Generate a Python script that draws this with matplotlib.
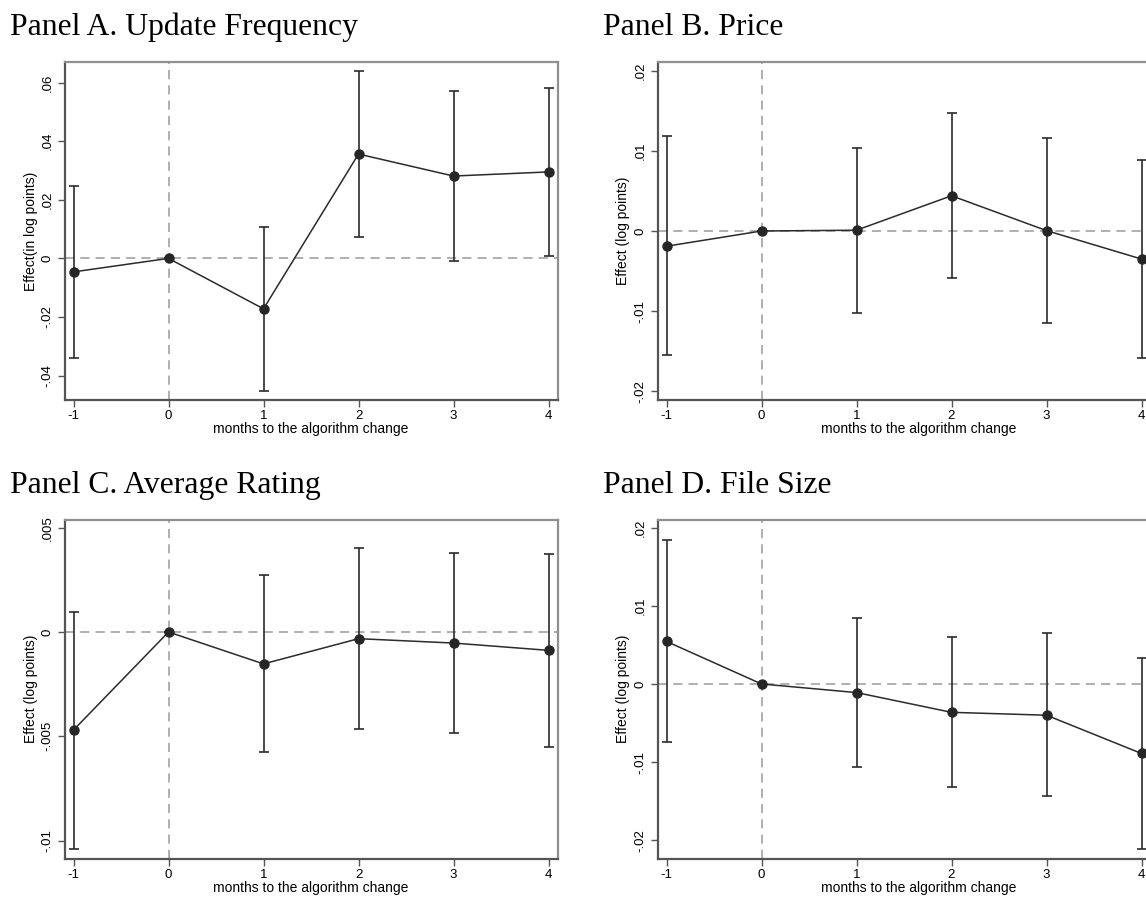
"""Event-study panels: effect of the algorithm change by month."""

import matplotlib

matplotlib.use("Agg")
import matplotlib.pyplot as plt

MONTHS = [-1, 0, 1, 2, 3, 4]

# Panel A. Update Frequency
freq_coef = [-0.0046, 0.0, -0.0172, 0.0356, 0.0281, 0.0295]
freq_lo = [-0.0339, 0.0, -0.0452, 0.0072, -0.0008, 0.0008]
freq_hi = [0.0248, 0.0, 0.0108, 0.0641, 0.0570, 0.0583]

# Panel B. Price
price_coef = [-0.0019, 0.0, 0.0001, 0.0044, 0.00005, -0.0035]
price_lo = [-0.0155, 0.0, -0.0102, -0.0059, -0.0115, -0.0159]
price_hi = [0.0118, 0.0, 0.0104, 0.0147, 0.0116, 0.0089]

# Panel C. Average Rating
rating_coef = [-0.0047, 0.0, -0.00153, -0.00032, -0.00053, -0.00088]
rating_lo = [-0.0104, 0.0, -0.00577, -0.00466, -0.00482, -0.00549]
rating_hi = [0.00098, 0.0, 0.00272, 0.00404, 0.0038, 0.00373]

# Panel D. File Size
size_coef = [0.00545, 0.0, -0.0011, -0.00363, -0.0040, -0.0089]
size_lo = [-0.0074, 0.0, -0.01058, -0.01318, -0.01438, -0.0211]
size_hi = [0.0184, 0.0, 0.00844, 0.00596, 0.00647, 0.00333]

W, H = 1146, 897
SANS = ["Liberation Sans", "DejaVu Sans"]
SERIF = ["Liberation Serif", "DejaVu Serif"]
PX_PER_MONTH = 95.0


def _box(px_left, px_top, px_right, px_bottom):
    return [px_left / W, 1 - px_bottom / H, (px_right - px_left) / W, (px_bottom - px_top) / H]


def _fmt(v):
    if abs(v) < 1e-12:
        return "0"
    return f"{v:g}".replace("0.", ".")


def _draw_panel(fig, px_box, title, title_xy, coef, lo, hi, yticks, ylim, ylabel):
    left, top, right, bottom = px_box
    ax = fig.add_axes(_box(left, top, right, bottom))
    pad = 9.0 / PX_PER_MONTH
    ax.set_xlim(-1 - pad, -1 - pad + (right - left) / PX_PER_MONTH)
    ax.set_ylim(*ylim)

    ax.axhline(0, color="#9a9a9a", lw=1.1, ls=(0, (6, 4)), zorder=1)
    ax.axvline(0, color="#9a9a9a", lw=1.1, ls=(0, (6, 4)), zorder=1)

    err = [[c - l for c, l in zip(coef, lo)], [h - c for c, h in zip(coef, hi)]]
    ax.errorbar(MONTHS, coef, yerr=err, fmt="none", ecolor="#2b2b2b",
                elinewidth=1.2, capsize=3.5, capthick=1.2, zorder=2)
    ax.plot(MONTHS, coef, color="#2b2b2b", lw=1.1, marker="o", markersize=6.5,
            markerfacecolor="#262626", markeredgecolor="#262626", zorder=3)

    ax.set_xticks(MONTHS)
    ax.set_xticklabels([str(m) for m in MONTHS], fontsize=9.5, family=SANS)
    ax.set_yticks(yticks)
    ax.set_yticklabels([_fmt(v) for v in yticks], rotation=90, va="center",
                       fontsize=9.5, family=SANS)
    ax.tick_params(direction="out", length=5, width=1.0, color="#555555", pad=3)
    ax.tick_params(axis="x", pad=2.5)
    ax.set_xlabel("months to the algorithm change", fontsize=10, family=SANS, labelpad=0)
    ax.set_ylabel(ylabel, fontsize=10, family=SANS)
    ax.yaxis.set_label_coords(-27.0 / (right - left), 0.5)

    for side in ("left", "bottom"):
        ax.spines[side].set_color("#555555")
        ax.spines[side].set_linewidth(1.6)
    for side in ("top", "right"):
        ax.spines[side].set_color("#909090")
        ax.spines[side].set_linewidth(1.6)

    fig.text(title_xy[0] / W, 1 - title_xy[1] / H, title, fontsize=22.8,
             family=SERIF, ha="left", va="baseline")
    return ax


fig = plt.figure(figsize=(W / 100, H / 100), dpi=100)
fig.patch.set_facecolor("white")

_draw_panel(fig, (64.5, 62, 557.5, 400), "Panel A. Update Frequency", (10, 35),
            freq_coef, freq_lo, freq_hi, [-0.04, -0.02, 0, 0.02, 0.04, 0.06],
            (-0.0483, 0.067), "Effect(in log points)")

_draw_panel(fig, (657.5, 62, 1180, 400), "Panel B. Price", (603, 35),
            price_coef, price_lo, price_hi, [-0.02, -0.01, 0, 0.01, 0.02],
            (-0.0211, 0.0211), "Effect (log points)")

_draw_panel(fig, (64.5, 520, 557.5, 858.5), "Panel C. Average Rating", (10, 493),
            rating_coef, rating_lo, rating_hi, [-0.01, -0.005, 0, 0.005],
            (-0.01086, 0.00537), "Effect (log points)")

_draw_panel(fig, (657.5, 520, 1180, 858.5), "Panel D. File Size", (603, 493),
            size_coef, size_lo, size_hi, [-0.02, -0.01, 0, 0.01, 0.02],
            (-0.02235, 0.0210), "Effect (log points)")

fig.savefig("out.png", dpi=100, facecolor=fig.get_facecolor())
